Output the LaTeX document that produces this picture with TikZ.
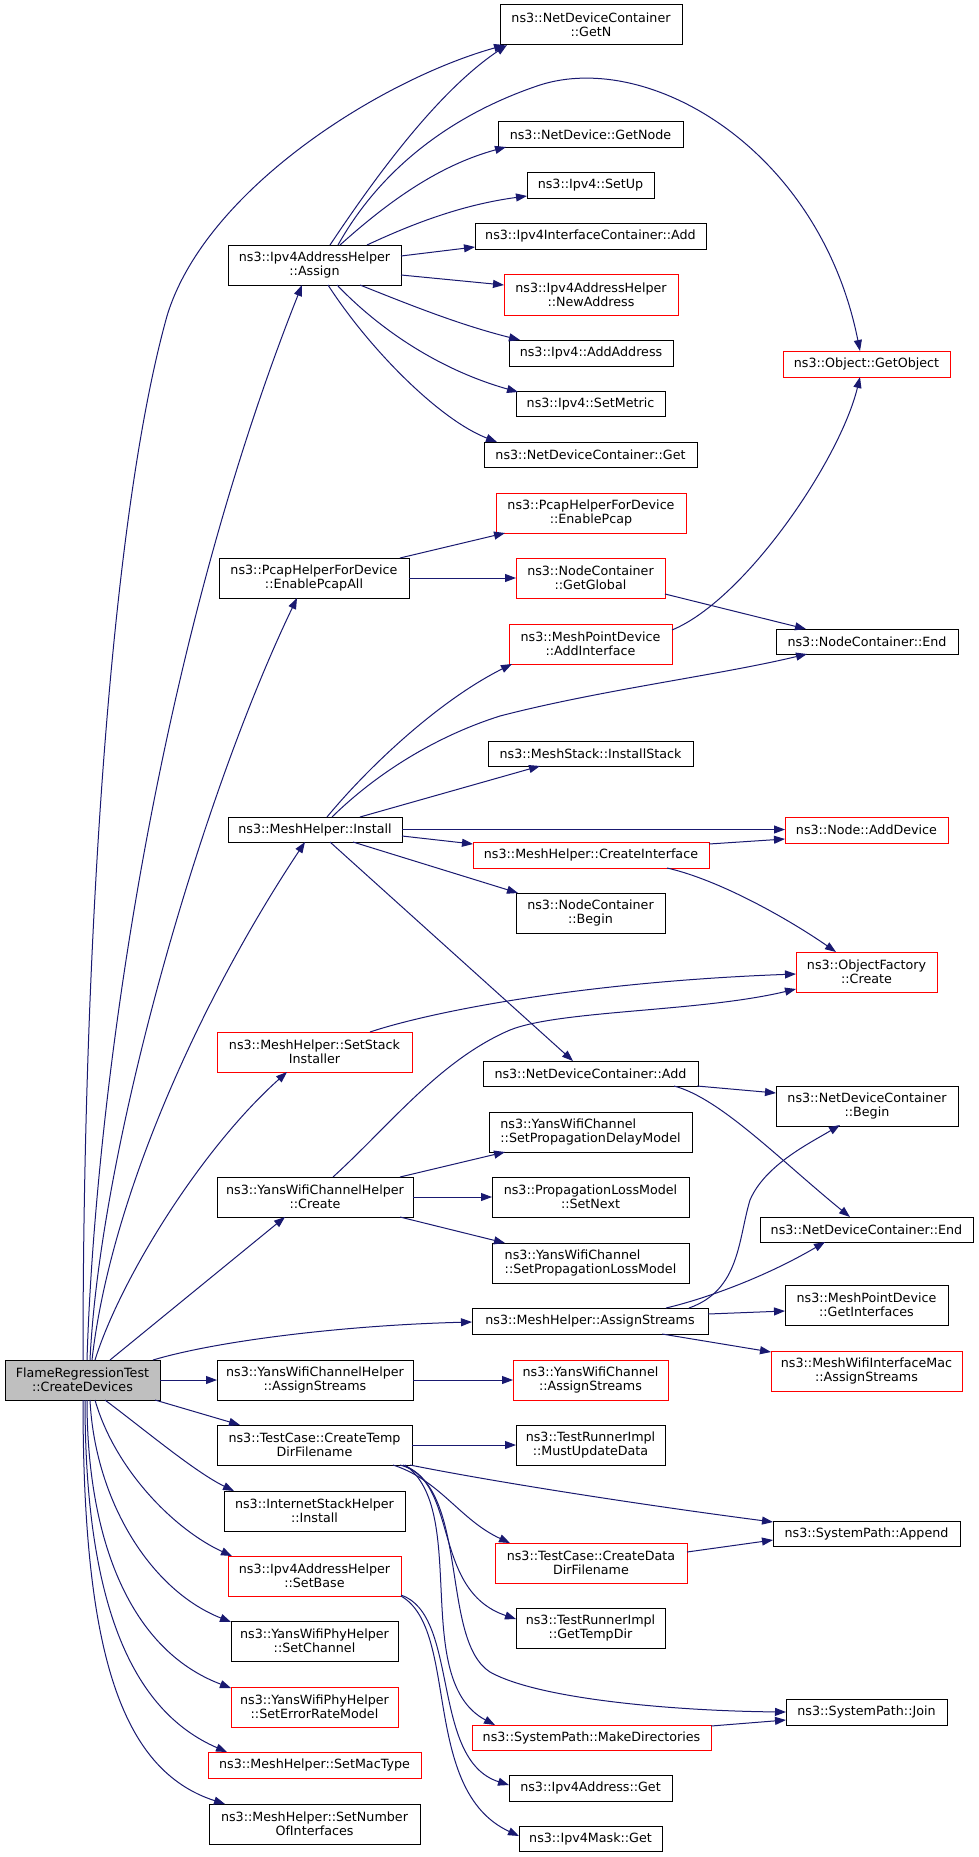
\documentclass[tikz,border=0pt]{standalone}
\usepackage{fontspec}
\newfontfamily\dv{DejaVu Sans}
\usetikzlibrary{arrows.meta,calc}
\definecolor{edgeblue}{HTML}{191970}
\definecolor{rootgray}{HTML}{BFBFBF}
\begin{document}
\begin{tikzpicture}[x=1pt,y=-1pt,
 box/.style={draw=black, line width=1pt, inner sep=0pt, outer sep=0pt, anchor=north west, align=center, font=\dv\fontsize{12.7}{14}\selectfont},
 redbox/.style={box, draw=red},
 call/.style={draw=edgeblue, line width=1pt, -{Triangle[length=11pt,width=8pt]}},
]
\fill[white] (0,0) rectangle (979,1857);
\useasboundingbox (0,0) rectangle (979,1857);

% left column
\node[box, fill=rootgray, minimum width=155, minimum height=40] (cd) at (5,1360) {FlameRegressionTest\\::CreateDevices};
\node[box, minimum width=173, minimum height=40] (assign) at (228,245) {ns3::Ipv4AddressHelper\\::Assign};
\node[box, minimum width=190, minimum height=40] (pcapall) at (219,558) {ns3::PcapHelperForDevice\\::EnablePcapAll};
\node[box, minimum width=174, minimum height=25] (install) at (228,817) {ns3::MeshHelper::Install};
\node[redbox, minimum width=195, minimum height=40] (setstack) at (217,1032) {ns3::MeshHelper::SetStack\\Installer};
\node[box, minimum width=196, minimum height=40] (ychcreate) at (217,1177) {ns3::YansWifiChannelHelper\\::Create};
\node[box, minimum width=196, minimum height=40] (ychassign) at (217,1360) {ns3::YansWifiChannelHelper\\::AssignStreams};
\node[box, minimum width=195, minimum height=40] (tempdir) at (217,1425) {ns3::TestCase::CreateTemp\\DirFilename};
\node[box, minimum width=181, minimum height=40] (ishinstall) at (224,1491) {ns3::InternetStackHelper\\::Install};
\node[redbox, minimum width=173, minimum height=40] (setbase) at (228,1556) {ns3::Ipv4AddressHelper\\::SetBase};
\node[box, minimum width=167, minimum height=40] (setchannel) at (231,1621) {ns3::YansWifiPhyHelper\\::SetChannel};
\node[redbox, minimum width=167, minimum height=40] (seterr) at (231,1687) {ns3::YansWifiPhyHelper\\::SetErrorRateModel};
\node[redbox, minimum width=213, minimum height=26] (setmac) at (208,1752) {ns3::MeshHelper::SetMacType};
\node[box, minimum width=211, minimum height=40] (setnum) at (209,1804) {ns3::MeshHelper::SetNumber\\OfInterfaces};

% middle column
\node[box, minimum width=182, minimum height=40] (getn) at (500,5) {ns3::NetDeviceContainer\\::GetN};
\node[box, minimum width=185, minimum height=25] (getnode) at (498,122) {ns3::NetDevice::GetNode};
\node[box, minimum width=127, minimum height=26] (setup) at (527,172) {ns3::Ipv4::SetUp};
\node[box, minimum width=231, minimum height=26] (iicadd) at (475,223) {ns3::Ipv4InterfaceContainer::Add};
\node[redbox, minimum width=174, minimum height=41] (newaddr) at (504,274) {ns3::Ipv4AddressHelper\\::NewAddress};
\node[box, minimum width=164, minimum height=26] (addaddr) at (509,340) {ns3::Ipv4::AddAddress};
\node[box, minimum width=149, minimum height=25] (setmetric) at (516,391) {ns3::Ipv4::SetMetric};
\node[box, minimum width=213, minimum height=25] (ndcget) at (484,442) {ns3::NetDeviceContainer::Get};
\node[redbox, minimum width=190, minimum height=40] (enablepcap) at (496,493) {ns3::PcapHelperForDevice\\::EnablePcap};
\node[redbox, minimum width=149, minimum height=40] (getglobal) at (516,558) {ns3::NodeContainer\\::GetGlobal};
\node[redbox, minimum width=163, minimum height=40] (addif) at (509,624) {ns3::MeshPointDevice\\::AddInterface};
\node[box, minimum width=205, minimum height=25] (installstack) at (488,741) {ns3::MeshStack::InstallStack};
\node[redbox, minimum width=236, minimum height=26] (createif) at (473,842) {ns3::MeshHelper::CreateInterface};
\node[box, minimum width=149, minimum height=40] (ncbegin) at (516,893) {ns3::NodeContainer\\::Begin};
\node[box, minimum width=215, minimum height=25] (ndcadd) at (483,1061) {ns3::NetDeviceContainer::Add};
\node[box, align=left, minimum width=203, minimum height=40] (setdelay) at (489,1112) {ns3::YansWifiChannel\\::SetPropagationDelayModel};
\node[box, minimum width=197, minimum height=40] (setnext) at (492,1177) {ns3::PropagationLossModel\\::SetNext};
\node[box, align=left, minimum width=197, minimum height=40] (setloss) at (492,1243) {ns3::YansWifiChannel\\::SetPropagationLossModel};
\node[box, minimum width=236, minimum height=26] (meshassign) at (472,1308) {ns3::MeshHelper::AssignStreams};
\node[redbox, minimum width=155, minimum height=40] (ycassign) at (513,1360) {ns3::YansWifiChannel\\::AssignStreams};
\node[box, minimum width=149, minimum height=40] (mustupdate) at (516,1425) {ns3::TestRunnerImpl\\::MustUpdateData};
\node[redbox, minimum width=192, minimum height=40] (createdata) at (495,1543) {ns3::TestCase::CreateData\\DirFilename};
\node[box, minimum width=149, minimum height=40] (gettempdir) at (516,1608) {ns3::TestRunnerImpl\\::GetTempDir};
\node[redbox, minimum width=239, minimum height=25] (makedirs) at (472,1725) {ns3::SystemPath::MakeDirectories};
\node[box, minimum width=163, minimum height=26] (v4addrget) at (509,1775) {ns3::Ipv4Address::Get};
\node[box, minimum width=143, minimum height=25] (maskget) at (519,1826) {ns3::Ipv4Mask::Get};

% right column
\node[redbox, minimum width=167, minimum height=26] (getobject) at (783,351) {ns3::Object::GetObject};
\node[box, minimum width=182, minimum height=25] (ncend) at (776,629) {ns3::NodeContainer::End};
\node[redbox, minimum width=163, minimum height=26] (adddevice) at (785,817) {ns3::Node::AddDevice};
\node[redbox, minimum width=141, minimum height=40] (ofcreate) at (796,952) {ns3::ObjectFactory\\::Create};
\node[box, minimum width=182, minimum height=40] (ndcbegin) at (776,1086) {ns3::NetDeviceContainer\\::Begin};
\node[box, minimum width=213, minimum height=25] (ndcend) at (760,1217) {ns3::NetDeviceContainer::End};
\node[box, minimum width=163, minimum height=40] (getifs) at (785,1285) {ns3::MeshPointDevice\\::GetInterfaces};
\node[redbox, minimum width=191, minimum height=40] (mwimac) at (771,1351) {ns3::MeshWifiInterfaceMac\\::AssignStreams};
\node[box, minimum width=187, minimum height=25] (append) at (773,1521) {ns3::SystemPath::Append};
\node[box, minimum width=161, minimum height=26] (join) at (786,1699) {ns3::SystemPath::Join};

% edges from CreateDevices
\draw[call] ($(cd.north west)+(78,0)$) .. controls (83,950) and (110,520) .. (167,316) .. controls (205,190) and (380,80) .. ($(getn.north west)+(5,40)$);
\draw[call] ($(cd.north west)+(82,0)$) .. controls (95,1100) and (155,655) .. ($(assign.north west)+(74,40)$);
\draw[call] ($(cd.north west)+(85,0)$) .. controls (100,1150) and (200,800) .. ($(pcapall.north west)+(78,40)$);
\draw[call] ($(cd.north west)+(87,0)$) .. controls (110,1200) and (200,1000) .. ($(install.north west)+(77,25)$);
\draw[call] ($(cd.north west)+(90,0)$) .. controls (120,1280) and (200,1150) .. ($(setstack.north west)+(70,40)$);
\draw[call] ($(cd.north west)+(105,0)$) -- ($(ychcreate.north west)+(68,40)$);
\draw[call] ($(cd.north west)+(148,0)$) .. controls (220,1340) and (350,1325) .. ($(meshassign.north west)+(0,14)$);
\draw[call] ($(cd.north west)+(155,20)$) -- ($(ychassign.north west)+(0,20)$);
\draw[call] ($(cd.north west)+(150,40)$) -- ($(tempdir.north west)+(23,0)$);
\draw[call] ($(cd.north west)+(100,40)$) .. controls (145,1430) and (195,1472) .. ($(ishinstall.north west)+(10,0)$);
\draw[call] ($(cd.north west)+(90,40)$) .. controls (115,1470) and (175,1530) .. ($(setbase.north west)+(4,0)$);
\draw[call] ($(cd.north west)+(85,40)$) .. controls (95,1500) and (150,1590) .. ($(setchannel.north west)+(0,1)$);
\draw[call] ($(cd.north west)+(82,40)$) .. controls (87,1540) and (130,1650) .. ($(seterr.north west)+(0,1)$);
\draw[call] ($(cd.north west)+(80,40)$) .. controls (85,1600) and (130,1710) .. ($(setmac.north west)+(19,0)$);
\draw[call] ($(cd.north west)+(78,40)$) .. controls (83,1650) and (120,1770) .. ($(setnum.north west)+(16,0)$);

% edges from Assign
\draw[call] ($(assign.north west)+(102,0)$) .. controls (380,170) and (440,90) .. ($(getn.north west)+(7,40)$);
\draw[call] ($(assign.north west)+(110,0)$) .. controls (380,170) and (450,115) .. (540,85) .. controls (650,50) and (820,150) .. ($(getobject.north west)+(77,0)$);
\draw[call] ($(assign.north west)+(112,0)$) .. controls (390,200) and (440,165) .. ($(getnode.north west)+(8,25)$);
\draw[call] ($(assign.north west)+(139,0)$) .. controls (410,225) and (460,205) .. ($(setup.north west)+(0,24)$);
\draw[call] ($(assign.north west)+(173,11)$) -- ($(iicadd.north west)+(0,24)$);
\draw[call] ($(assign.north west)+(173,30)$) -- ($(newaddr.north west)+(0,11)$);
\draw[call] ($(assign.north west)+(132,40)$) .. controls (410,305) and (460,325) .. ($(addaddr.north west)+(11,0)$);
\draw[call] ($(assign.north west)+(109,40)$) .. controls (380,330) and (440,370) .. ($(setmetric.north west)+(2,1)$);
\draw[call] ($(assign.north west)+(100,40)$) .. controls (370,350) and (440,420) .. ($(ndcget.north west)+(13,0)$);

% EnablePcapAll
\draw[call] ($(pcapall.north west)+(181,0)$) -- ($(enablepcap.north west)+(9,40)$);
\draw[call] ($(pcapall.north west)+(190,20)$) -- ($(getglobal.north west)+(0,20)$);
\draw[call] ($(getglobal.north west)+(149,36)$) -- ($(ncend.north west)+(30,0)$);
\draw[call] ($(addif.north west)+(163,6)$) .. controls (745,600) and (840,460) .. ($(getobject.north west)+(77,26)$);

% Install
\draw[call] ($(install.north west)+(99,0)$) .. controls (370,765) and (440,700) .. ($(addif.north west)+(3,40)$);
\draw[call] ($(install.north west)+(104,0)$) .. controls (380,770) and (440,735) .. (500,716) .. controls (600,690) and (720,675) .. ($(ncend.north west)+(31,25)$);
\draw[call] ($(install.north west)+(132,0)$) -- ($(installstack.north west)+(52,25)$);
\draw[call] ($(install.north west)+(174,12.5)$) -- ($(adddevice.north west)+(0,12.5)$);
\draw[call] ($(install.north west)+(174,19)$) -- ($(createif.north west)+(0,2)$);
\draw[call] ($(install.north west)+(125,25)$) -- ($(ncbegin.north west)+(2,0)$);
\draw[call] ($(install.north west)+(102,25)$) -- ($(ndcadd.north west)+(90,0)$);
\draw[call] ($(createif.north west)+(236,2)$) -- ($(adddevice.north west)+(0,22)$);
\draw[call] ($(createif.north west)+(194,26)$) .. controls (720,880) and (790,920) .. ($(ofcreate.north west)+(40,0)$);

% SetStackInstaller, YansWifiChannelHelper::Create
\draw[call] ($(setstack.north west)+(153,0)$) .. controls (430,1012) and (580,982) .. ($(ofcreate.north west)+(0,22)$);
\draw[call] ($(ychcreate.north west)+(116,0)$) .. controls (390,1125) and (440,1060) .. (510,1030) .. controls (560,1010) and (700,1012) .. ($(ofcreate.north west)+(0,37)$);
\draw[call] ($(ychcreate.north west)+(183,0)$) -- ($(setdelay.north west)+(16,40)$);
\draw[call] ($(ychcreate.north west)+(196,20)$) -- ($(setnext.north west)+(0,20)$);
\draw[call] ($(ychcreate.north west)+(183,40)$) -- ($(setloss.north west)+(13,0)$);

% NetDeviceContainer::Add
\draw[call] ($(ndcadd.north west)+(214,25)$) -- ($(ndcbegin.north west)+(0,7)$);
\draw[call] ($(ndcadd.north west)+(191,25)$) .. controls (720,1098) and (780,1160) .. ($(ndcend.north west)+(90,0)$);

% MeshHelper::AssignStreams
\draw[call] ($(meshassign.north west)+(217,0)$) .. controls (740,1290) and (738,1240) .. (750,1200) .. controls (765,1165) and (810,1143) .. ($(ndcbegin.north west)+(64,39)$);
\draw[call] ($(meshassign.north west)+(194,0)$) .. controls (700,1300) and (760,1280) .. ($(ndcend.north west)+(65,25)$);
\draw[call] ($(meshassign.north west)+(236,6)$) -- ($(getifs.north west)+(0,26)$);
\draw[call] ($(meshassign.north west)+(190,26)$) -- ($(mwimac.north west)+(0,1)$);

% YansWifiChannelHelper::AssignStreams
\draw[call] ($(ychassign.north west)+(196,20)$) -- ($(ycassign.north west)+(0,20)$);

% CreateTempDirFilename
\draw[call] ($(tempdir.north west)+(195,20)$) -- ($(mustupdate.north west)+(0,20)$);
\draw[call] ($(tempdir.north west)+(193,40)$) .. controls (500,1483) and (650,1506) .. ($(append.north west)+(0,1)$);
\draw[call] ($(tempdir.north west)+(176,40)$) .. controls (440,1480) and (460,1520) .. ($(createdata.north west)+(15,0)$);
\draw[call] ($(tempdir.north west)+(183,40)$) .. controls (460,1480) and (430,1590) .. ($(gettempdir.north west)+(0,11)$);
\draw[call] ($(tempdir.north west)+(186,40)$) .. controls (470,1490) and (440,1640) .. (490,1672) .. controls (540,1700) and (680,1711) .. ($(join.north west)+(0,13)$);
\draw[call] ($(tempdir.north west)+(188,40)$) .. controls (470,1510) and (410,1680) .. ($(makedirs.north west)+(23,0)$);

% SetBase
\draw[call] ($(setbase.north west)+(173,39)$) .. controls (460,1615) and (430,1760) .. ($(v4addrget.north west)+(0,10)$);
\draw[call] ($(setbase.north west)+(173,40)$) .. controls (460,1630) and (420,1790) .. ($(maskget.north west)+(0,10)$);

% CreateDataDirFilename, MakeDirectories
\draw[call] ($(createdata.north west)+(192,9)$) -- ($(append.north west)+(0,19)$);
\draw[call] ($(makedirs.north west)+(239,1)$) -- ($(join.north west)+(0,21)$);
\end{tikzpicture}
\end{document}
